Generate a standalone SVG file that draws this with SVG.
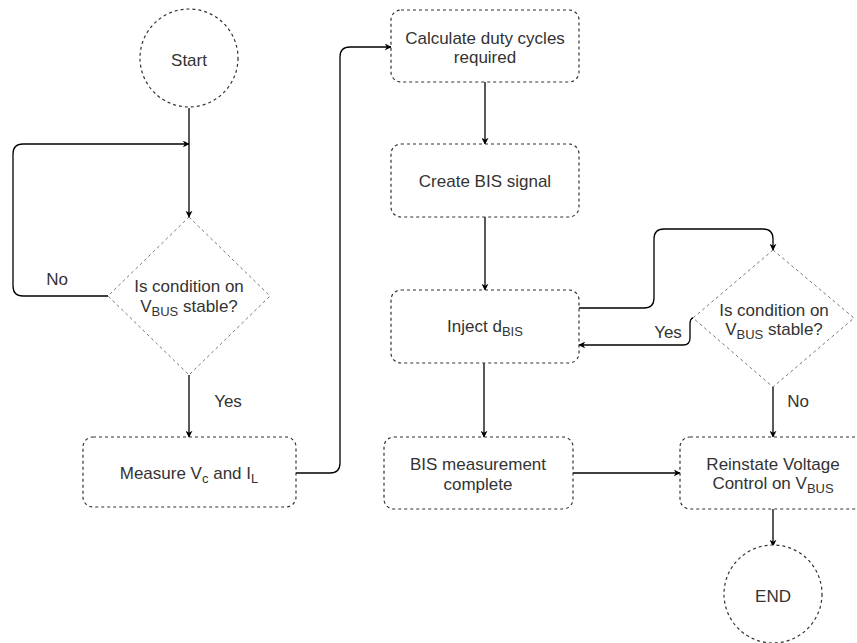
<svg xmlns="http://www.w3.org/2000/svg" width="857" height="643" viewBox="0 0 857 643">
  <style>
    .box { fill: #ffffff; stroke: #333333; stroke-width: 1.2; stroke-dasharray: 3 3; }
    .dia { fill: #ffffff; stroke: #555555; stroke-width: 0.8; stroke-dasharray: 3 3; }
    .edge { fill: none; stroke: #000000; stroke-width: 1.3; marker-end: url(#arrow); }
    text { font-family: "Liberation Sans", Arial, sans-serif; font-size: 17px; fill: #333333; text-anchor: middle; }
    .sub { font-size: 13px; }
  </style>
  <defs>
    <marker id="arrow" viewBox="0 0 10 10" refX="9" refY="5" markerWidth="7" markerHeight="7" markerUnits="userSpaceOnUse" orient="auto">
      <path d="M0,0 L10,5 L0,10 L3,5 z" fill="#000000"/>
    </marker>
  </defs>
  <rect width="857" height="643" fill="#ffffff"/>

  <g id="connectors">
    <path class="edge" d="M189,108 V217"/>
    <path class="edge" d="M108,296 H23 Q13,296 13,286 V154 Q13,144 23,144 H189"/>
    <path class="edge" d="M189,375 V437"/>
    <path class="edge" d="M296,473 H330 Q340,473 340,463 V57 Q340,47 350,47 H391"/>
    <path class="edge" d="M485,82 V144"/>
    <path class="edge" d="M485,217 V290"/>
    <path class="edge" d="M579,308 H644 Q654,308 654,298 V239 Q654,229 664,229 H763 Q773,229 773,239 V250"/>
    <path class="edge" d="M693,318 Q690,318 690,325 V338 Q690,345 683,345 H579"/>
    <path class="edge" d="M484,363 V437"/>
    <path class="edge" d="M773,387 V437"/>
    <path class="edge" d="M573,473 H680"/>
    <path class="edge" d="M773,509 V546"/>
    <text x="57" y="285">No</text>
    <text x="228" y="407">Yes</text>
    <text x="668" y="338">Yes</text>
    <text x="798" y="407">No</text>
  </g>

  <g id="start">
    <circle class="box" cx="189" cy="58" r="49"/>
    <text x="189" y="66">Start</text>
  </g>

  <g id="check-left">
    <polygon class="dia" points="189,217 270,296 189,375 108,296"/>
    <text x="189" y="292">Is condition on</text>
    <text x="189" y="312">V<tspan class="sub" dy="4">BUS</tspan><tspan dy="-4"> stable?</tspan></text>
  </g>

  <g id="measure">
    <rect class="box" x="83" y="437" width="213" height="70" rx="10"/>
    <text x="189" y="479">Measure V<tspan class="sub" dy="4">c</tspan><tspan dy="-4"> and I</tspan><tspan class="sub" dy="4">L</tspan></text>
  </g>

  <g id="calculate">
    <rect class="box" x="391" y="10" width="188" height="72" rx="10"/>
    <text x="485" y="44">Calculate duty cycles</text>
    <text x="485" y="63">required</text>
  </g>

  <g id="create">
    <rect class="box" x="391" y="144" width="188" height="73" rx="10"/>
    <text x="485" y="187">Create BIS signal</text>
  </g>

  <g id="inject">
    <rect class="box" x="391" y="290" width="188" height="73" rx="10"/>
    <text x="485" y="332">Inject d<tspan class="sub" dy="4">BIS</tspan></text>
  </g>

  <g id="check-right">
    <polygon class="dia" points="773,250 854,318 773,387 693,318"/>
    <text x="774" y="316">Is condition on</text>
    <text x="774" y="335">V<tspan class="sub" dy="4">BUS</tspan><tspan dy="-4"> stable?</tspan></text>
  </g>

  <g id="bis-complete">
    <rect class="box" x="384" y="437" width="189" height="72" rx="10"/>
    <text x="478" y="470">BIS measurement</text>
    <text x="478" y="490">complete</text>
  </g>

  <g id="reinstate">
    <rect class="box" x="680" y="437" width="187" height="72" rx="10"/>
    <text x="773" y="470">Reinstate Voltage</text>
    <text x="773" y="489">Control on V<tspan class="sub" dy="4">BUS</tspan></text>
  </g>

  <g id="end">
    <circle class="box" cx="773" cy="594" r="49"/>
    <text x="773" y="602">END</text>
  </g>
</svg>
